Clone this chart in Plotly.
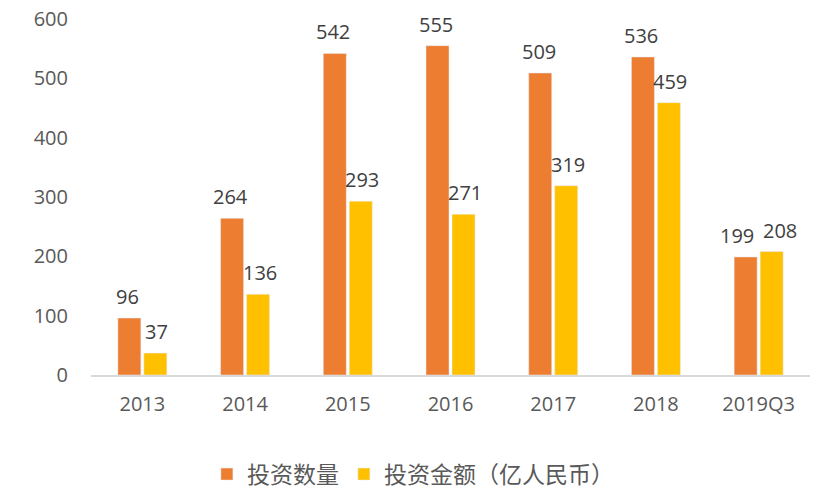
import plotly.graph_objects as go

categories = ["2013", "2014", "2015", "2016", "2017", "2018", "2019Q3"]
invest_count = [96, 264, 542, 555, 509, 536, 199]
invest_amount = [37, 136, 293, 271, 319, 459, 208]
y_ticks = [0, 100, 200, 300, 400, 500, 600]

font_family = "Open Sans, Noto Sans CJK SC, sans-serif"
text_color = "#595959"
label_color = "#404040"

fig = go.Figure()
fig.add_trace(go.Bar(
    x=categories, y=invest_count, name="投资数量",
    marker_color="#ED7D31",
))
fig.add_trace(go.Bar(
    x=categories, y=invest_amount, name="投资金额（亿人民币）",
    marker_color="#FFC000",
))

# data labels (offset to sit above each bar of the group); x given as category index
half = 14.5
for i, cat in enumerate(categories):
    extra = 7 if cat == "2019Q3" else 0
    fig.add_annotation(x=i, y=invest_count[i], xref="x", yref="y",
                       text=str(invest_count[i]), showarrow=False,
                       xanchor="center", yanchor="bottom",
                       xshift=-half - extra, yshift=6,
                       font=dict(size=20, color=label_color, family=font_family))
    fig.add_annotation(x=i, y=invest_amount[i], xref="x", yref="y",
                       text=str(invest_amount[i]), showarrow=False,
                       xanchor="center", yanchor="bottom",
                       xshift=half + extra, yshift=6,
                       font=dict(size=20, color=label_color, family=font_family))

fig.update_layout(
    width=828, height=498,
    margin=dict(l=83, r=26, t=11, b=131, autoexpand=False),
    paper_bgcolor="white", plot_bgcolor="white",
    barmode="group", bargap=0.494, bargroupgap=0.115,
    font=dict(family=font_family, color=text_color, size=20),
    showlegend=True,
    legend=dict(
        orientation="h", x=0.489, xanchor="center", xref="container",
        y=0.064, yanchor="middle", yref="container",
        font=dict(size=23, color=text_color, family="Noto Sans CJK SC, sans-serif"),
        traceorder="normal",
    ),
)
fig.update_xaxes(
    type="category", categoryorder="array", categoryarray=categories,
    range=[-0.5, len(categories) - 0.5],
    showline=True, linecolor="#D9D9D9", linewidth=2,
    showgrid=False, ticks="", tickfont=dict(size=20, color=text_color),
    ticklabelstandoff=10, automargin=False, ticklabeloverflow="allow",
)
fig.update_yaxes(
    range=[0, 600], tickvals=y_ticks, showgrid=False, zeroline=False,
    showline=False, ticks="", ticklabelstandoff=22,
    tickfont=dict(size=20, color=text_color), automargin=False,
    ticklabeloverflow="allow",
)

fig.write_html("out.html")
